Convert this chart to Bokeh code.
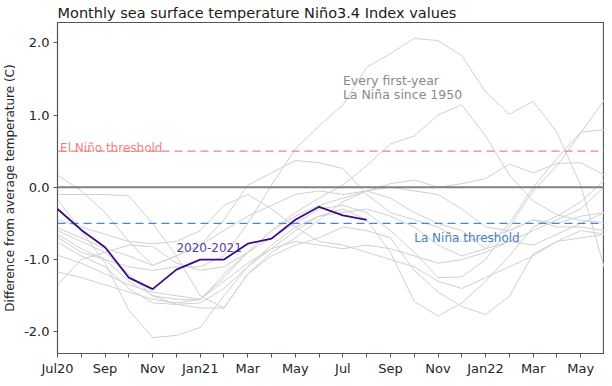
from bokeh.plotting import figure
from bokeh.models import FixedTicker, Range1d, Span, Label
from bokeh.embed import file_html
from bokeh.resources import INLINE

# ---- data ----
months = ["Jul20", "Aug", "Sep", "Oct", "Nov", "Dec", "Jan21", "Feb", "Mar", "Apr", "May", "Jun",
          "Jul", "Aug", "Sep", "Oct", "Nov", "Dec", "Jan22", "Feb", "Mar", "Apr", "May", "Jun"]
labeled_months = ["Jul20", "Sep", "Nov", "Jan21", "Mar", "May", "Jul", "Sep", "Nov", "Jan22", "Mar", "May"]
labeled_positions = [0, 2, 4, 6, 8, 10, 12, 14, 16, 18, 20, 22]

y_ticks = [-2.0, -1.0, 0.0, 1.0, 2.0]

nino34_2020_21 = [-0.30, -0.59, -0.83, -1.25, -1.41, -1.14, -1.00, -1.00, -0.78, -0.71, -0.45, -0.27, -0.39, -0.45]

lanina_a = [0.17, -0.05, -0.35, -0.75, -1.08, -0.95, -0.80, -0.45, 0.03, 0.20, 0.37, 0.34, 0.26, -0.10, -0.35, -0.45, -0.55, -0.75, -0.70, -0.60, -0.45, -0.50, -0.40, -0.35]
lanina_b = [-0.10, -0.10, -0.10, -0.12, -0.50, -0.95, -1.50, -1.67, -1.20, -0.90, -0.70, -0.45, -0.20, -0.05, -0.15, -0.35, -0.50, -0.60, -0.85, -0.75, -0.60, -0.45, -0.30, 0.01]
lanina_c = [-0.17, -0.60, -1.05, -1.70, -2.08, -2.05, -1.94, -1.50, -1.10, -0.85, -0.60, -0.40, -0.30, -0.45, -0.90, -1.58, -1.78, -1.60, -1.30, -0.95, -0.55, -0.40, -0.20, 0.10]
lanina_d = [-0.65, -0.85, -1.00, -1.10, -1.15, -1.10, -1.10, -0.95, -0.50, 0.03, 0.53, 0.85, 1.14, 1.66, 1.85, 2.06, 2.03, 1.82, 1.32, 1.01, 1.19, 0.76, 0.03, -1.12]
lanina_e = [-1.17, -1.25, -1.35, -1.45, -1.55, -1.60, -1.55, -1.25, -0.90, -0.60, -0.35, -0.15, 0.03, 0.30, 0.60, 0.71, 1.00, 1.14, 0.71, 0.17, -0.19, -0.38, -0.46, -0.49]
lanina_f = [-0.56, -0.70, -0.85, -0.95, -1.08, -0.95, -0.80, -0.60, -0.40, -0.25, -0.10, -0.05, -0.10, -0.05, 0.05, 0.10, 0.00, 0.05, 0.12, 0.32, 0.20, 0.33, 0.34, 0.17]
lanina_g = [-0.60, -0.75, -0.90, -1.20, -1.50, -1.62, -1.60, -1.40, -1.10, -0.80, -0.55, -0.40, -0.35, -0.30, -0.40, -0.55, -0.80, -0.95, -0.85, -0.50, 0.00, 0.40, 0.76, 0.80]
lanina_h = [-0.69, -0.90, -1.00, -1.30, -1.50, -1.55, -1.56, -1.20, -0.90, -0.70, -0.50, -0.30, -0.25, -0.35, -0.60, -0.90, -1.25, -1.24, -1.00, -0.55, -0.05, 0.30, 0.75, 1.21]
lanina_i = [-0.76, -0.95, -1.10, -1.40, -1.60, -1.62, -1.67, -1.67, -1.20, -0.95, -0.80, -0.70, -0.55, -0.60, -0.70, -1.15, -1.45, -1.65, -1.76, -1.51, -0.92, -0.75, -0.60, -0.65]
lanina_j = [-0.94, -1.05, -1.20, -1.35, -1.45, -1.50, -1.55, -1.30, -1.05, -0.85, -0.75, -0.80, -0.85, -0.80, -0.85, -0.95, -1.05, -1.00, -0.90, -0.75, -0.80, -0.65, -0.50, -0.35]
lanina_k = [-1.35, -1.00, -0.90, -0.80, -0.82, -1.05, -1.15, -1.10, -0.90, -0.60, -0.40, -0.25, -0.15, -0.05, 0.00, -0.05, -0.10, -0.30, -0.55, -0.60, -0.45, -0.55, -0.55, -0.60]
lanina_l = [-0.45, -0.55, -0.65, -0.75, -0.78, -0.75, -0.60, -0.25, -0.10, -0.30, -0.55, -0.75, -0.80, -0.90, -1.00, -1.10, -1.30, -1.40, -1.25, -1.10, -0.95, -0.75, -0.70, -0.65]

lanina_years = [lanina_a, lanina_b, lanina_c, lanina_d, lanina_e, lanina_f,
                lanina_g, lanina_h, lanina_i, lanina_j, lanina_k, lanina_l]

el_nino_threshold = 0.5
la_nina_threshold = -0.5

FONT = "DejaVu Sans"

p = figure(width=604, height=378, output_backend="svg", toolbar_location=None,
           x_range=Range1d(0, 23), y_range=Range1d(-2.3, 2.28),
           title="Monthly sea surface temperature Niño3.4 Index values",
           min_border_left=53, min_border_right=0, min_border_top=0, min_border_bottom=0)

p.title.text_font = FONT
p.title.text_font_size = "14.5px"
p.title.text_font_style = "normal"
p.title.text_color = "#1a1a1a"
p.title.align = "left"
p.title.standoff = 4
p.title.offset = 0

p.grid.visible = False
p.outline_line_color = "#555555"
p.outline_line_width = 1.2
p.background_fill_color = "white"
p.border_fill_color = "white"

for ax in p.axis:
    ax.axis_line_color = "#555555"
    ax.major_tick_line_color = "#555555"
    ax.minor_tick_line_color = None
    ax.major_tick_out = 4
    ax.major_tick_in = 0
    ax.major_label_text_font = FONT
    ax.major_label_text_font_size = "13px"
    ax.major_label_text_color = "#262626"
    ax.major_label_standoff = 4

p.xaxis.ticker = FixedTicker(ticks=list(range(len(months))))
p.xaxis.major_label_overrides = {i: "" for i in range(len(months))}
p.xaxis.major_label_overrides.update({pos: lab for pos, lab in zip(labeled_positions, labeled_months)})
p.xaxis.axis_label_standoff = 0
p.xaxis.axis_label_text_font_size = "0px"
p.xaxis.major_label_standoff = 3
p.xaxis.major_label_text_line_height = 0.9

p.yaxis.ticker = FixedTicker(ticks=y_ticks)
p.yaxis.major_label_overrides = {t: f"{t:.1f}" for t in y_ticks}
p.yaxis.axis_label = "Difference from average temperature (C)"
p.yaxis.axis_label_text_font = FONT
p.yaxis.axis_label_text_font_size = "12px"
p.yaxis.axis_label_text_font_style = "normal"
p.yaxis.axis_label_text_color = "#262626"
p.yaxis.axis_label_standoff = 4
p.yaxis.major_label_standoff = 4

x_all = list(range(len(months)))
for series in lanina_years:
    p.line(x_all, series, line_color="#d0d0d0", line_width=1)

p.add_layout(Span(location=0, dimension="width", line_color="#808080", line_width=2))
p.add_layout(Span(location=el_nino_threshold, dimension="width", line_color="#e98585",
                  line_width=1.4, line_dash="8 5"))
p.add_layout(Span(location=la_nina_threshold, dimension="width", line_color="#4a86cf",
                  line_width=1.4, line_dash="8 5"))

r = p.line(list(range(len(nino34_2020_21))), nino34_2020_21, line_color="#3d0a82", line_width=1.8)
r.level = "overlay"

p.add_layout(Label(x=0.11, y=0.54, text="El Niño threshold", text_font=FONT, text_font_size="12px",
                   text_color="#ef7f7f", text_baseline="alphabetic"))
p.add_layout(Label(x=15.0, y=-0.70, text="La Niña threshold", text_font=FONT, text_font_size="12px",
                   text_color="#4a80c4", text_baseline="alphabetic"))
p.add_layout(Label(x=12.0, y=1.48, text="Every first-year", text_font=FONT, text_font_size="12.5px",
                   text_color="#8a8a8a", text_baseline="alphabetic"))
p.add_layout(Label(x=12.0, y=1.285, text="La Niña since 1950", text_font=FONT, text_font_size="12.5px",
                   text_color="#8a8a8a", text_baseline="alphabetic"))
p.add_layout(Label(x=5.0, y=-0.84, text="2020-2021", text_font=FONT, text_font_size="12px",
                   text_color="#5b3c9e", text_baseline="alphabetic"))

open("out.html", "w").write(file_html(p, INLINE))
